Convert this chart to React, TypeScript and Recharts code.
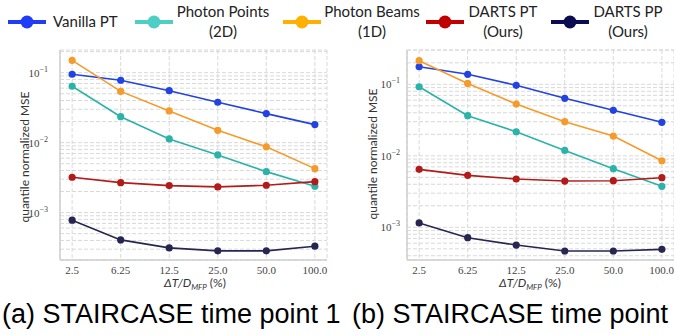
import { LineChart, Line, XAxis, YAxis, CartesianGrid } from 'recharts'

// x categories, Delta T / D_MFP in percent
const xLabels = ['2.5', '6.25', '12.5', '25.0', '50.0', '100.0']

// (a) time point 1
const aVanilla = [0.095, 0.078, 0.0553, 0.0378, 0.026, 0.0181]
const aPoints = [0.064, 0.0235, 0.0113, 0.00667, 0.00385, 0.00238]
const aBeams = [0.15, 0.054, 0.0284, 0.015, 0.0087, 0.00425]
const aDartsPT = [0.0032, 0.00268, 0.00243, 0.00233, 0.00246, 0.00277]
const aDartsPP = [0.000778, 0.000407, 0.000313, 0.000284, 0.000284, 0.000331]

// (b) time point 2
const bVanilla = [0.176, 0.138, 0.0968, 0.0637, 0.0433, 0.0294]
const bPoints = [0.0925, 0.0364, 0.0217, 0.0119, 0.0066, 0.00374]
const bBeams = [0.214, 0.103, 0.053, 0.03, 0.0189, 0.00853]
const bDartsPT = [0.00647, 0.00533, 0.00474, 0.00444, 0.00449, 0.00494]
const bDartsPP = [0.00115, 0.000716, 0.000565, 0.000466, 0.000466, 0.000492]

const seriesNames = ['Vanilla PT', 'Photon Points', 'Photon Beams', 'DARTS PT', 'DARTS PP']
const legendSub = ['', '(2D)', '(1D)', '(Ours)', '(Ours)']
const lineColors = ['#2243e0', '#2bb3aa', '#f59b2b', '#b31b1b', '#262650']
const legendColors = ['#1f3cf6', '#4ecfc6', '#ffb000', '#c00000', '#0b0b4f']

const keys = ['vanilla', 'points', 'beams', 'dartsPT', 'dartsPP']

const buildRows = (cols: number[][]) =>
  xLabels.map((label, i) => {
    const row: Record<string, number | string> = { i, label }
    keys.forEach((k, j) => {
      row[k] = cols[j][i]
    })
    return row
  })

const rowsA = buildRows([aVanilla, aPoints, aBeams, aDartsPT, aDartsPP])
const rowsB = buildRows([bVanilla, bPoints, bBeams, bDartsPT, bDartsPP])

const logTicks = (lo: number, hi: number) => {
  const out: number[] = []
  for (let e = -5; e <= 1; e++) {
    for (let m = 1; m <= 9; m++) {
      const v = m * Math.pow(10, e)
      if (v >= lo && v <= hi) out.push(v)
    }
  }
  return out
}

const LogTick = (props: any) => {
  const { x, y, payload } = props
  const v = payload.value
  const e = Math.round(Math.log10(v))
  if (Math.abs(v - Math.pow(10, e)) / v > 1e-6) return null
  return (
    <text x={x} y={y} dy={4} textAnchor="end" fill="#444" fontSize={11} fontFamily="'Liberation Serif', serif">
      10
      <tspan dy={-5} fontSize={8}>
        {'\u2212' + Math.abs(e)}
      </tspan>
    </text>
  )
}

const Panel = ({ rows, domain, yWidth, rightMargin, tickGap }: any) => (
  <LineChart
    width={yWidth + 267 + rightMargin}
    height={300}
    data={rows}
    margin={{ top: 50, right: rightMargin, bottom: 0, left: 0 }}
  >
    <CartesianGrid stroke="#d9d9d9" strokeDasharray="4 2" />
    <XAxis
      dataKey="i"
      type="number"
      domain={[-0.25, 5.25]}
      ticks={[0, 1, 2, 3, 4, 5]}
      tickFormatter={(v: number) => xLabels[v]}
      height={40}
      tickLine={false}
      tickMargin={0}
      stroke="#cfcfcf"
      strokeWidth={1.5}
      tick={{ fill: '#444', fontSize: 11, fontFamily: "'Liberation Serif', serif" }}
    />
    <YAxis
      scale="log"
      type="number"
      domain={domain}
      allowDataOverflow
      ticks={logTicks(domain[0], domain[1])}
      interval={0}
      width={yWidth}
      tickLine={false}
      tickSize={6}
      tickMargin={tickGap}
      stroke="#cfcfcf"
      strokeWidth={1.5}
      tick={<LogTick />}
    />
    {keys.map((k, j) => (
      <Line
        key={k}
        dataKey={k}
        type="linear"
        stroke={lineColors[j]}
        strokeWidth={1.6}
        dot={{ r: 3.6, fill: lineColors[j], stroke: lineColors[j], strokeWidth: 0 }}
        isAnimationActive={false}
      />
    ))}
  </LineChart>
)

const legendPos = [
  { mx: 8, tx: 85 },
  { mx: 135, tx: 223 },
  { mx: 283, tx: 372 },
  { mx: 426, tx: 503 },
  { mx: 551, tx: 628 }
]

const abs = (left: number, top: number): React.CSSProperties => ({ position: 'absolute', left, top })

const XLabel = ({ cx }: { cx: number }) => (
  <div
    style={{
      ...abs(cx - 50, 276),
      width: 100,
      textAlign: 'center',
      fontFamily: 'Lato, sans-serif',
      fontSize: 12,
      lineHeight: '14px',
      color: '#333'
    }}
  >
    <i>ΔT/D</i>
    <sub style={{ fontSize: 8, fontStyle: 'italic', lineHeight: 0 }}>MFP</sub> (%)
  </div>
)

const YLabel = ({ cx, cy }: { cx: number; cy: number }) => (
  <div
    style={{
      ...abs(cx - 80, cy - 8),
      width: 160,
      height: 16,
      lineHeight: '16px',
      textAlign: 'center',
      transform: 'rotate(-90deg)',
      fontFamily: 'Lato, sans-serif',
      fontSize: 12,
      color: '#333'
    }}
  >
    quantile normalized MSE
  </div>
)

const captionStyle: React.CSSProperties = {
  fontFamily: "'Liberation Sans', Arial, sans-serif",
  fontSize: 27,
  lineHeight: '30px',
  whiteSpace: 'nowrap',
  color: '#000'
}

const App = () => (
  <div
    style={{
      position: 'absolute',
      left: 0,
      top: 0,
      width: 674,
      height: 335,
      overflow: 'hidden',
      background: '#fff'
    }}
  >
    {/* legend */}
    {seriesNames.map((name, j) => (
      <div key={name}>
        <svg style={abs(legendPos[j].mx, 14)} width={38} height={16}>
          <line x1={0} x2={38} y1={8} y2={8} stroke={legendColors[j]} strokeWidth={4} />
          <circle cx={19} cy={8} r={6.5} fill={legendColors[j]} />
        </svg>
        <div
          style={{
            ...abs(legendPos[j].tx - 60, legendSub[j] ? 2 : 11.5),
            width: 120,
            textAlign: j === 0 ? 'left' : 'center',
            fontFamily: 'Lato, sans-serif',
            fontSize: 15,
            lineHeight: '19.5px',
            color: '#222',
            ...(j === 0 ? { left: 53 } : {})
          }}
        >
          {name}
          {legendSub[j] && <br />}
          {legendSub[j]}
        </div>
      </div>
    ))}

    <div style={abs(0, 0)}>
      <Panel rows={rowsA} domain={[0.00021, 0.211]} yWidth={60} rightMargin={13} tickGap={6} />
    </div>
    <div style={abs(340, 0)}>
      <Panel rows={rowsB} domain={[0.000349, 0.302]} yWidth={67} rightMargin={0} tickGap={1} />
    </div>

    <YLabel cx={25} cy={157} />
    <YLabel cx={373} cy={154} />
    <XLabel cx={195} />
    <XLabel cx={530} />

    <div style={{ ...abs(2, 299), ...captionStyle }}>(a) STAIRCASE time point 1</div>
    <div style={{ ...abs(352, 299), ...captionStyle }}>(b) STAIRCASE time point 2</div>
  </div>
)

export default App
